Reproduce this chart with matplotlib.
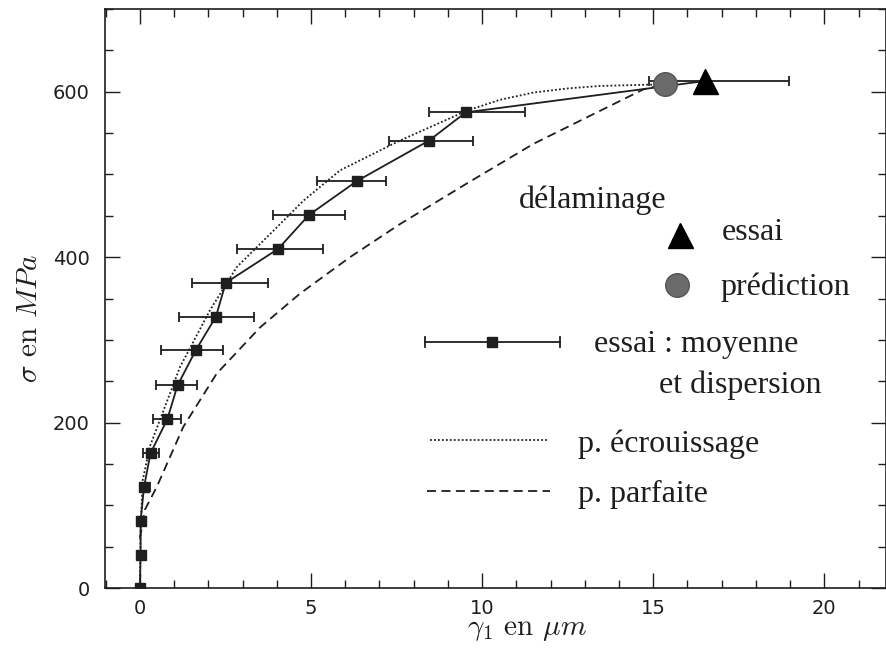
import matplotlib
matplotlib.use("Agg")
import matplotlib.pyplot as plt
import numpy as np

# ---- data ----
gamma_mean = [0.0, 0.02, 0.02, 0.12, 0.31, 0.80, 1.10, 1.64, 2.22, 2.51, 4.04, 4.94, 6.34, 8.45, 9.52]
sigma_mean = [0, 40, 81, 122, 163, 204, 245, 288, 328, 369, 410, 451, 492, 541, 575]
gamma_lo = [0.0, 0.02, 0.02, 0.05, 0.10, 0.39, 0.47, 0.61, 1.15, 1.53, 2.84, 3.88, 5.17, 7.29, 8.46]
gamma_hi = [0.0, 0.02, 0.02, 0.29, 0.56, 1.20, 1.68, 2.44, 3.33, 3.73, 5.34, 5.99, 7.19, 9.72, 11.26]

delam_test_gamma = 16.52
delam_test_sigma = 613
delam_test_lo = 14.87
delam_test_hi = 18.96
delam_pred_gamma = 15.35
delam_pred_sigma = 609

ecr_gamma = [0.0, 0.02, 0.08, 0.29, 1.17, 2.05, 2.83, 4.0, 4.77, 5.85, 7.6, 9.55, 10.5, 11.5, 12.5, 13.45, 15.35]
ecr_sigma = [0, 70, 130, 171, 267, 336, 388, 436, 468, 505, 541, 577, 590, 599, 604, 607, 609]

parf_gamma = [0.0, 0.15, 0.49, 1.27, 2.24, 3.51, 4.68, 6.14, 7.60, 9.55, 11.50, 13.45, 14.72, 15.35]
parf_sigma = [60, 95, 122, 195, 259, 315, 356, 400, 440, 489, 537, 577, 603, 609]

x_ticks = [0, 5, 10, 15, 20]
y_ticks = [0, 200, 400, 600]

plt.rcParams['mathtext.fontset'] = 'cm'
label_font = ['cmr10', 'DejaVu Serif']
text_font = ['Liberation Serif', 'DejaVu Serif']
ink = '#1e1e1e'

fig = plt.figure(figsize=(8.87, 6.52), dpi=100)
ax = fig.add_axes([105/887, 64/652, 781/887, 579/652])
ax.set_xlim(-1.02, 21.8)
ax.set_ylim(0, 700)

# curves
ax.plot(ecr_gamma, ecr_sigma, linestyle=(0, (1, 1.2)), color=ink, lw=1.3)
ax.plot(parf_gamma, parf_sigma, linestyle=(0, (5, 3)), color=ink, lw=1.3)

# mean test line with dispersion
gm = np.array(gamma_mean)
xerr = [gm - np.array(gamma_lo), np.array(gamma_hi) - gm]
ax.plot(list(gamma_mean) + [delam_test_gamma], list(sigma_mean) + [delam_test_sigma],
        color=ink, lw=1.3)
ax.errorbar(gamma_mean, sigma_mean, xerr=xerr, fmt='s', color=ink, ms=6.5,
            capsize=3.6, elinewidth=1.3, capthick=1.3)

# delamination
ax.errorbar([delam_test_gamma], [delam_test_sigma],
            xerr=[[delam_test_gamma - delam_test_lo], [delam_test_hi - delam_test_gamma]],
            fmt='none', color=ink, capsize=3.6, elinewidth=1.3, capthick=1.3)
ax.plot([delam_pred_gamma], [delam_pred_sigma], 'o', ms=17, color='#6b6b6b',
        mec='#555555', mew=1.0, zorder=5)
ax.plot([delam_test_gamma], [delam_test_sigma], '^', ms=18, color='black', zorder=6)

# ticks
ax.set_xticks(x_ticks)
ax.set_yticks(y_ticks)
ax.set_xticks(np.arange(-1, 22, 1), minor=True)
ax.set_yticks(np.arange(0, 701, 50), minor=True)
ax.tick_params(which='both', direction='in', top=True, right=True, width=1.0,
               labelsize=14, colors=ink)
ax.tick_params(axis='y', pad=11)
ax.tick_params(axis='x', pad=8)
ax.tick_params(which='major', length=11)
ax.tick_params(which='minor', length=6)
for sp in ax.spines.values():
    sp.set_linewidth(1.2)
    sp.set_color(ink)

ax.set_xlabel(r'$\gamma_1$ en $\mu m$', fontsize=21, family=label_font, color=ink)
ax.set_ylabel(r'$\sigma$ en $MPa$', fontsize=21, family=label_font, color=ink)
ax.xaxis.set_label_coords((527-105)/781, -(617-588)/579)
ax.yaxis.set_label_coords(-(105-43)/781, (588-319)/579)

# custom legend (axes coordinates)
T = ax.transAxes
def fx(px):
    return (px - 105) / 781
def fy(py):
    return (588 - py) / 579

fs = 23
ax.text(fx(519), fy(208), 'délaminage', transform=T, fontsize=fs, family=text_font,
        color=ink, va='baseline', ha='left')
ax.plot([fx(680)], [fy(235)], '^', ms=18, color='black', transform=T, clip_on=False)
ax.text(fx(722), fy(240), 'essai', transform=T, fontsize=fs, family=text_font,
        color=ink, va='baseline', ha='left')
ax.plot([fx(677)], [fy(285)], 'o', ms=17, color='#6b6b6b', mec='#555555', mew=1.0,
        transform=T, clip_on=False)
ax.text(fx(720), fy(295), 'prédiction', transform=T, fontsize=fs, family=text_font,
        color=ink, va='baseline', ha='left')

# errorbar legend sample
ax.plot([fx(425), fx(560)], [fy(342), fy(342)], color=ink, lw=1.3, transform=T)
ax.plot([fx(425), fx(425)], [fy(337), fy(347)], color=ink, lw=1.3, transform=T)
ax.plot([fx(560), fx(560)], [fy(337), fy(347)], color=ink, lw=1.3, transform=T)
ax.plot([fx(492)], [fy(342)], 's', color=ink, ms=6.5, transform=T)
ax.text(fx(594), fy(352), 'essai : moyenne', transform=T, fontsize=fs, family=text_font,
        color=ink, va='baseline', ha='left')
ax.text(fx(659), fy(393), 'et dispersion', transform=T, fontsize=fs, family=text_font,
        color=ink, va='baseline', ha='left')

ax.plot([fx(430), fx(547)], [fy(440), fy(440)], linestyle=(0, (1, 1.2)), color=ink,
        lw=1.3, transform=T)
ax.text(fx(578), fy(452), 'p. écrouissage', transform=T, fontsize=fs, family=text_font,
        color=ink, va='baseline', ha='left')
ax.plot([fx(427), fx(550)], [fy(491), fy(491)], linestyle=(0, (5, 3)), color=ink,
        lw=1.3, transform=T)
ax.text(fx(578), fy(502), 'p. parfaite', transform=T, fontsize=fs, family=text_font,
        color=ink, va='baseline', ha='left')

fig.savefig('out.png', dpi=100, facecolor='white')
